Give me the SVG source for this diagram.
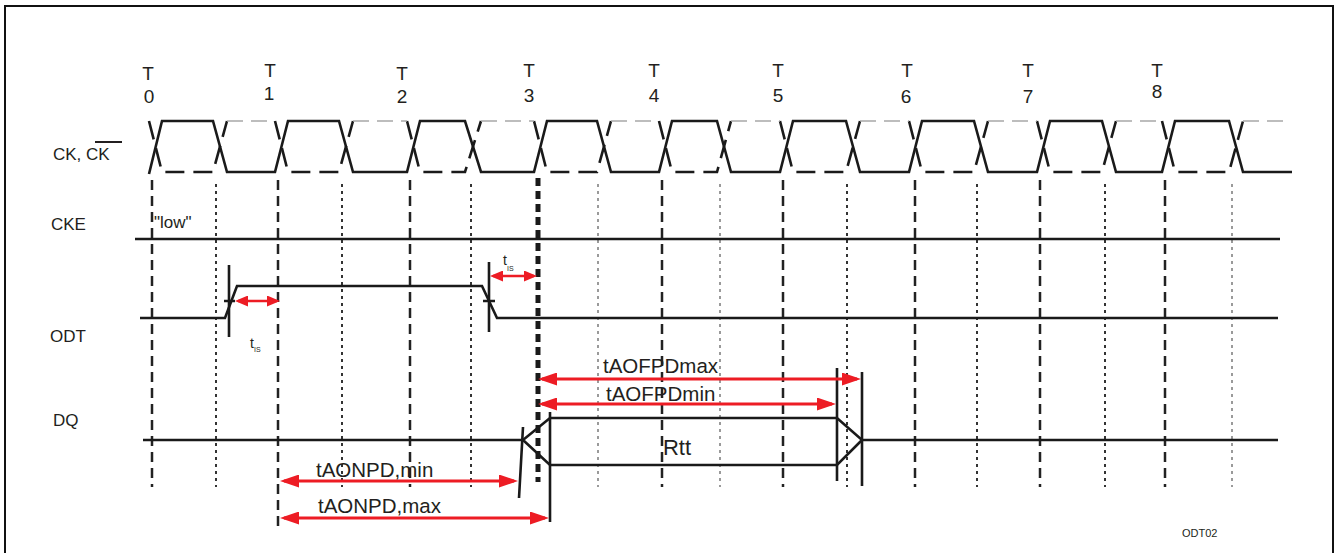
<svg xmlns="http://www.w3.org/2000/svg" width="1343" height="553" viewBox="0 0 1343 553">
<defs>
<style>
.lbl{font-family:"Liberation Sans",Arial,sans-serif;fill:#231f20}
.sig{font-size:17px}
.tk{font-size:19px;text-anchor:middle}
.big{font-size:20.5px}
.w{fill:none;stroke:#1a1a1a;stroke-width:2.6;stroke-linejoin:miter}
.ckb{fill:none;stroke:#1a1a1a;stroke-width:2.6;stroke-dasharray:19 9}
.ckg{fill:none;stroke:#a8a8a8;stroke-width:1.6;stroke-dasharray:16 8}
.dash{stroke:#222;stroke-width:2.5;stroke-dasharray:10 6}
.dot{stroke:#333;stroke-width:2;stroke-dasharray:3 4}
.dotl{stroke:#9a9a9a;stroke-width:2;stroke-dasharray:3 4}
.arr{stroke:#ED1C24;stroke-width:3;marker-start:url(#ah);marker-end:url(#ah)}
.arrs{stroke:#ED1C24;stroke-width:2.6;marker-start:url(#as);marker-end:url(#as)}
</style>
<marker id="ah" markerUnits="userSpaceOnUse" markerWidth="19" markerHeight="13" viewBox="0 0 19 13" refX="15" refY="6.5" orient="auto-start-reverse"><path d="M0,0 L19,6.5 L0,13 z" fill="#ED1C24"/></marker>
<marker id="as" markerUnits="userSpaceOnUse" markerWidth="13" markerHeight="11" viewBox="0 0 13 11" refX="10" refY="5.5" orient="auto-start-reverse"><path d="M0,0 L13,5.5 L0,11 z" fill="#ED1C24"/></marker>
</defs>
<rect width="1343" height="553" fill="#fff"/>
<path d="M5,553 L5,6 L1333,6 L1333,553" fill="none" stroke="#111" stroke-width="2"/>

<g id="grid">
<line class="dash" x1="152" y1="180" x2="152" y2="487"/>
<line class="dash" x1="278" y1="180" x2="278" y2="527"/>
<line class="dash" x1="410" y1="180" x2="410" y2="487"/>
<line x1="538" y1="178" x2="538" y2="482" stroke="#1a1a1a" stroke-width="5" stroke-dasharray="8 5"/>
<line class="dash" x1="662" y1="180" x2="662" y2="487"/>
<line class="dash" x1="783" y1="180" x2="783" y2="487"/>
<line class="dash" x1="915" y1="180" x2="915" y2="487"/>
<line class="dash" x1="1040" y1="180" x2="1040" y2="487"/>
<line class="dash" x1="1165" y1="180" x2="1165" y2="487"/>
<line class="dot" x1="216" y1="184" x2="216" y2="487"/>
<line class="dot" x1="342" y1="184" x2="342" y2="487"/>
<line class="dot" x1="471" y1="184" x2="471" y2="487"/>
<line class="dotl" x1="598" y1="184" x2="598" y2="487"/>
<line class="dotl" x1="720" y1="184" x2="720" y2="487"/>
<line class="dot" x1="847" y1="184" x2="847" y2="487"/>
<line class="dot" x1="977" y1="184" x2="977" y2="487"/>
<line class="dot" x1="1105" y1="184" x2="1105" y2="487"/>
<line class="dotl" x1="1232" y1="184" x2="1232" y2="487"/>
</g>

<g id="tick-labels" class="lbl tk">
<text x="148" y="80">T</text><text x="149" y="103">0</text>
<text x="270" y="77">T</text><text x="269" y="100">1</text>
<text x="402" y="80">T</text><text x="402" y="103">2</text>
<text x="529" y="77">T</text><text x="529" y="102">3</text>
<text x="654" y="77">T</text><text x="654" y="102">4</text>
<text x="778" y="77">T</text><text x="778" y="102">5</text>
<text x="907" y="77">T</text><text x="906" y="103">6</text>
<text x="1028" y="77">T</text><text x="1028" y="103">7</text>
<text x="1157" y="77">T</text><text x="1157" y="98">8</text>
</g>

<g id="signal-labels" class="lbl sig">
<text x="53" y="160">CK, CK</text>
<line x1="95" y1="142" x2="122" y2="142" stroke="#231f20" stroke-width="2"/>
<text x="51" y="230">CKE</text>
<text x="154" y="228">"low"</text>
<text x="50" y="342">ODT</text>
<text x="53" y="426">DQ</text>
<text x="1182" y="537" style="font-size:11px">ODT02</text>
</g>

<g id="ck">
<path class="w" d="M149,174 L162,121 L213,121 L227,172 L275,172 L288,121 L339,121 L353,172 L407,172 L420,121 L465,121 L481,172 L534,172 L547,121 L597,121 L611,172 L659,172 L672,121 L717,121 L731,172 L780,172 L793,121 L846,121 L860,172 L909,172 L922,121 L974,121 L988,172 L1037,172 L1050,121 L1102,121 L1116,172 L1162,172 L1175,121 L1229,121 L1243,172 L1292,172"/>
</g>
<g id="ck-bar">
<path class="ckb" d="M149,121 L162,172 L213,172 L227,121"/>
<path class="ckb" d="M275,121 L288,172 L339,172 L353,121"/>
<path class="ckb" d="M407,121 L420,172 L465,172 L481,121"/>
<path class="ckb" d="M534,121 L547,172 L597,172 L611,121"/>
<path class="ckb" d="M659,121 L672,172 L717,172 L731,121"/>
<path class="ckb" d="M780,121 L793,172 L846,172 L860,121"/>
<path class="ckb" d="M909,121 L922,172 L974,172 L988,121"/>
<path class="ckb" d="M1037,121 L1050,172 L1102,172 L1116,121"/>
<path class="ckb" d="M1162,121 L1175,172 L1229,172 L1243,121"/>
<path class="ckg" d="M227,121 H275 M353,121 H407 M481,121 H534 M611,121 H659 M731,121 H780 M860,121 H909 M988,121 H1037 M1116,121 H1162 M1243,121 H1283"/>
</g>

<g id="cke">
<line class="w" x1="135" y1="239" x2="1280" y2="239"/>
</g>

<g id="odt">
<path class="w" d="M140,318 L225,318 L237,286 L482,286 L497,318 L1278,318"/>
<path class="w" d="M229,265 L229,337 M224,301 L235,301 M489,262 L489,332 M483,301 L495,301"/>
</g>

<g id="dq">
<path class="w" d="M143,440 L523,440 L550,418 L837,418 L862,440 L1278,440 M523,440 L550,465 L837,465 L862,440"/>
<path class="w" d="M523,427 L519,498 M550,412 L550,522 M837,368 L837,481 M862,372 L862,486"/>
<text class="lbl" x="677" y="455" text-anchor="middle" style="font-size:22px">Rtt</text>
</g>

<g id="timings">
<line class="arrs" x1="238" y1="301" x2="277" y2="301"/>
<line class="arrs" x1="493" y1="276" x2="534" y2="276"/>
<line class="arr" x1="542" y1="379" x2="857" y2="379"/>
<line class="arr" x1="542" y1="404" x2="832" y2="404"/>
<line class="arr" x1="284" y1="481" x2="514" y2="481"/>
<line class="arr" x1="284" y1="518" x2="545" y2="518"/>
<text class="lbl" x="250" y="348" style="font-size:14px">t<tspan x="254" y="352" style="font-size:7px">IS</tspan></text>
<text class="lbl" x="503" y="265" style="font-size:14px">t<tspan x="507" y="271" style="font-size:7px">IS</tspan></text>
<text class="lbl big" x="603" y="373">tAOFPDmax</text>
<text class="lbl big" x="606" y="401">tAOFPDmin</text>
<text class="lbl big" x="316" y="477">tAONPD,min</text>
<text class="lbl big" x="318" y="513">tAONPD,max</text>
</g>
</svg>
